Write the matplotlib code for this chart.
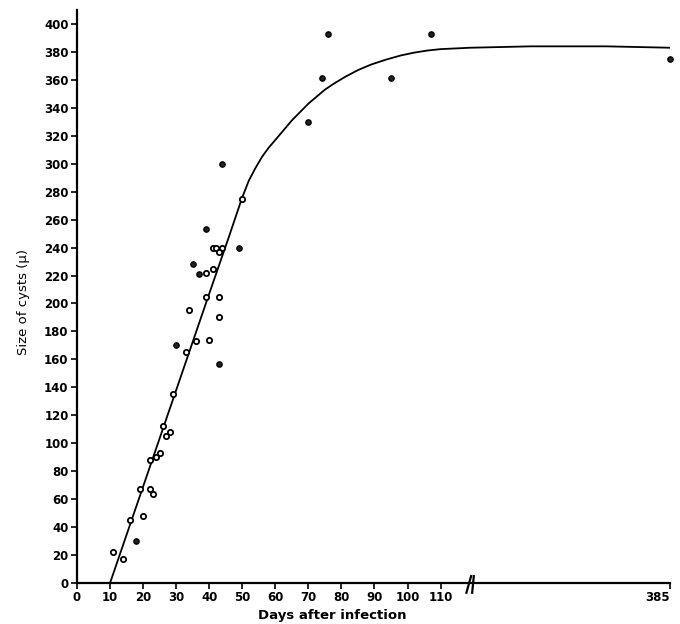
#!/usr/bin/env python3
"""Cyst size against days after infection, with a broken x axis up to day 385."""

import numpy as np
import matplotlib
matplotlib.use("Agg")
import matplotlib.pyplot as plt
import matplotlib.transforms as mtransforms

# open-circle observations (day, size in micron)
open_days = [11, 14, 16, 19, 20, 22, 23, 22, 24, 25, 26, 27, 28, 29, 33, 34,
             36, 40, 39, 39, 41, 43, 43, 41, 42, 44, 43, 50]
open_sizes = [22, 17, 45, 67, 48, 67, 64, 88, 90, 93, 112, 105, 108, 135, 165, 195,
              173, 174, 205, 222, 225, 205, 190, 240, 240, 240, 237, 275]

# filled-circle observations
filled_days = [18, 30, 35, 37, 39, 43, 44, 49, 70, 74, 76, 95, 107, 385]
filled_sizes = [30, 170, 228, 221, 253, 157, 300, 240, 330, 361, 393, 361, 393, 375]

# fitted curve
curve_days = [10, 20, 30, 40, 46, 50, 52, 54, 56, 58, 60, 62.5, 65, 67.5, 70,
              72.5, 75, 77.5, 81, 85, 89, 93.5, 98, 102, 106, 110, 119, 200, 300, 385]
curve_sizes = [0, 69, 138, 207, 248, 276, 288, 297, 305, 311.5, 317, 324, 331, 337, 343,
               348, 353, 357, 362, 367, 371, 374.5, 377.5, 379.5, 381, 382, 383, 384,
               384, 383]

x_ticks = [0, 10, 20, 30, 40, 50, 60, 70, 80, 90, 100, 110, 385]
y_ticks = list(range(0, 401, 20))

BREAK = 119.0          # where the axis is broken
SQUEEZE = 60.4 / (385 - BREAK)


def forward(x):
    x = np.asarray(x, dtype=float)
    return np.where(x <= BREAK, x, BREAK + (x - BREAK) * SQUEEZE)


def inverse(u):
    u = np.asarray(u, dtype=float)
    return np.where(u <= BREAK, u, BREAK + (u - BREAK) / SQUEEZE)


def main() -> None:
    fig = plt.figure(figsize=(6.8, 6.24), dpi=100)
    ax = fig.add_axes([77 / 680, 41 / 624, 593 / 680, 573 / 624])
    ax.set_xscale("function", functions=(forward, inverse))

    ax.plot(curve_days, curve_sizes, color="black", lw=1.3, zorder=2)
    ax.plot(open_days, open_sizes, "o", ms=3.8, mfc="white", mec="black",
            mew=1.3, zorder=3, clip_on=False)
    ax.plot(filled_days, filled_sizes, "o", ms=3.8, mfc="#222222", mec="black",
            mew=1.0, zorder=3, clip_on=False)

    ax.set_xlim(0, 385)
    ax.set_ylim(0, 410)
    ax.set_xticks(x_ticks)
    ax.set_xticklabels([str(t) for t in x_ticks])
    ax.set_yticks(y_ticks)
    ax.minorticks_off()

    for side in ("top", "right"):
        ax.spines[side].set_visible(False)
    for side in ("left", "bottom"):
        ax.spines[side].set_linewidth(1.6)
    ax.tick_params(direction="out", length=4, width=1.2, pad=2,
                   labelsize=8.5, colors="black")
    for lab in ax.get_xticklabels() + ax.get_yticklabels():
        lab.set_fontweight("bold")
    # last label sits against the right edge, keep it inside the canvas
    ax.get_xticklabels()[-1].set_horizontalalignment("right")
    ax.get_xticklabels()[-1].set_x(385)

    # the "//" break marks on the x axis
    trans = mtransforms.blended_transform_factory(ax.transData, ax.transAxes)
    for x0 in (BREAK - 1.2, BREAK + 2.4):
        ax.plot([x0, x0 + 2.2], [-0.017, 0.012], color="black", lw=1.6,
                transform=trans, clip_on=False)

    ax.set_xlabel("Days after infection", fontsize=9.5, fontweight="bold")
    ax.xaxis.set_label_coords(0.43, -0.045)
    ax.set_ylabel("Size of cysts (\u03bc)", fontsize=9.5)
    ax.yaxis.set_label_coords(-0.08, 0.49)

    fig.savefig("out.png", dpi=100)
    plt.close(fig)


if __name__ == "__main__":
    main()
